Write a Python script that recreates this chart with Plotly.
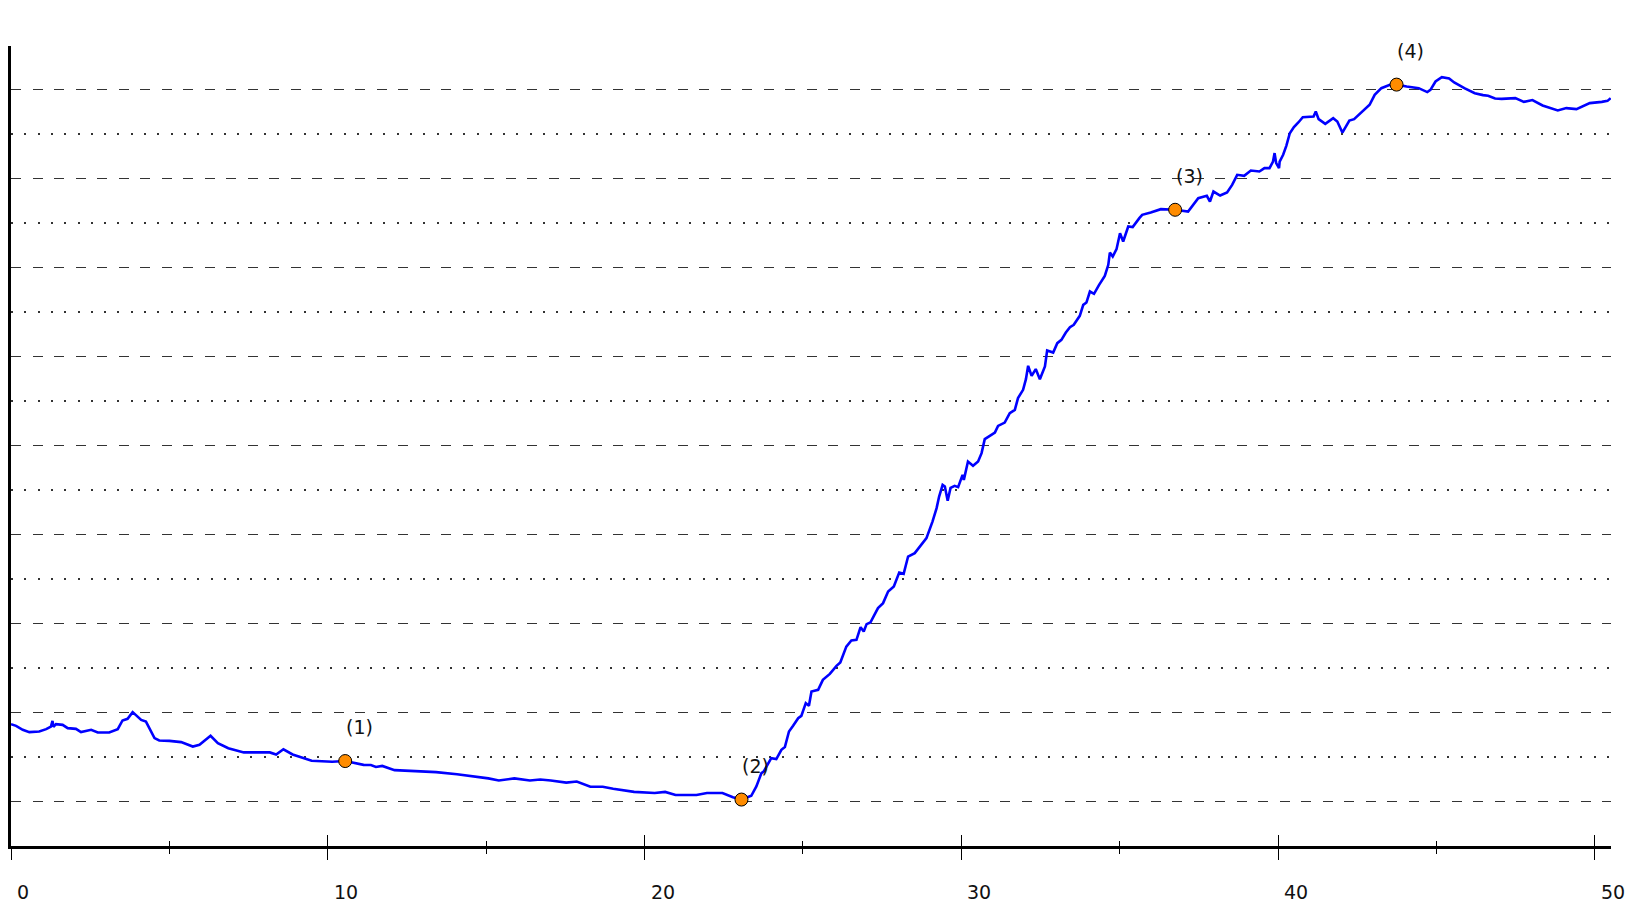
import plotly.graph_objects as go

# ---- data ----
x_vals = [
    0.00, 0.16, 0.37, 0.58, 0.89, 1.11, 1.26, 1.31, 1.34, 1.42, 1.63, 1.79, 2.05, 2.21,
    2.53, 2.74, 3.10, 3.37, 3.52, 3.68, 3.84, 4.11, 4.26, 4.53, 4.68, 5.00, 5.37, 5.74,
    5.95, 6.07, 6.30, 6.53, 6.86, 7.35, 8.17, 8.37, 8.60, 8.89, 9.49, 10.14, 10.55,
    11.13, 11.36, 11.52, 11.72, 12.11, 12.77, 13.42, 14.08, 15.07, 15.40, 15.89, 16.38,
    16.71, 17.04, 17.53, 17.86, 18.29, 18.68, 19.01, 19.67, 20.32, 20.65, 20.98, 21.64,
    21.97, 22.46, 22.79, 23.06,
    23.37, 23.53, 23.61, 23.69, 23.76, 23.90, 24.00, 24.16, 24.32, 24.43, 24.56, 24.69,
    24.85, 24.95, 25.09, 25.19, 25.27, 25.48, 25.63, 25.85, 26.06, 26.18, 26.37, 26.53,
    26.69, 26.82, 26.92, 27.01, 27.13, 27.24, 27.37, 27.53, 27.69, 27.87, 28.04, 28.18,
    28.32, 28.53, 28.74, 28.90, 29.09, 29.22, 29.30, 29.41, 29.48, 29.57, 29.66, 29.79,
    29.90, 30.04, 30.08, 30.21, 30.37, 30.53, 30.64, 30.74, 30.90, 31.06, 31.16, 31.37,
    31.53, 31.69, 31.79, 31.95, 32.04, 32.11, 32.22, 32.35, 32.48, 32.64, 32.71, 32.90,
    33.03, 33.16, 33.30, 33.43, 33.55, 33.69, 33.74, 33.85, 33.95, 34.06, 34.19, 34.35,
    34.53, 34.64, 34.69, 34.78, 34.90, 35.01, 35.11, 35.27, 35.41, 35.62, 35.71, 35.98,
    36.30, 36.75, 37.16, 37.48, 37.75, 37.85, 37.96, 38.17, 38.39, 38.55, 38.71, 38.93,
    39.14, 39.41, 39.57, 39.73, 39.84, 39.89, 39.94, 40.03, 40.05, 40.16, 40.26, 40.37,
    40.50, 40.64, 40.78, 41.12, 41.19, 41.28, 41.49, 41.74, 41.87, 42.03, 42.25, 42.40,
    42.67, 42.89, 43.05, 43.26, 43.53, 43.74, 44.06, 44.44, 44.71, 44.81, 44.97, 45.17,
    45.40, 45.56, 45.88, 46.21, 46.47, 46.63, 46.85, 47.06, 47.49, 47.76, 48.03, 48.35,
    48.83, 49.10, 49.42, 49.84, 50.22, 50.40, 50.50,
]
y_vals = [
    1.870, 1.851, 1.806, 1.780, 1.787, 1.814, 1.843, 1.907, 1.840, 1.870, 1.862, 1.825, 1.817, 1.780,
    1.806, 1.776, 1.776, 1.814, 1.911, 1.930, 2.005, 1.918, 1.899, 1.713, 1.686, 1.682, 1.668, 1.618,
    1.637, 1.669, 1.739, 1.657, 1.599, 1.552, 1.552, 1.529, 1.587, 1.529, 1.458, 1.447, 1.455,
    1.412, 1.410, 1.388, 1.400, 1.353, 1.341, 1.330, 1.306, 1.260, 1.236, 1.260, 1.236,
    1.248, 1.236, 1.213, 1.225, 1.166, 1.166, 1.143, 1.108, 1.096, 1.108, 1.073, 1.073,
    1.096, 1.096, 1.049, 1.022,
    1.064, 1.169, 1.244, 1.319, 1.337, 1.432, 1.488, 1.477, 1.581, 1.612, 1.787, 1.851,
    1.937, 1.963, 2.106, 2.076, 2.237, 2.256, 2.368, 2.435, 2.525, 2.563, 2.742, 2.810,
    2.818, 2.960, 2.911, 2.994, 3.012, 3.087, 3.174, 3.230, 3.361, 3.417, 3.574, 3.560,
    3.754, 3.792, 3.886, 3.961, 4.147, 4.298, 4.428, 4.560, 4.541, 4.380, 4.525, 4.549,
    4.534, 4.672, 4.616, 4.822, 4.774, 4.822, 4.916, 5.074, 5.111, 5.148, 5.223, 5.260,
    5.366, 5.403, 5.535, 5.628, 5.748, 5.898, 5.785, 5.861, 5.748, 5.890, 6.070, 6.047,
    6.153, 6.190, 6.272, 6.333, 6.359, 6.434, 6.460, 6.583, 6.609, 6.733, 6.707, 6.808,
    6.909, 7.033, 7.171, 7.126, 7.209, 7.389, 7.295, 7.464, 7.457, 7.558, 7.595, 7.621,
    7.659, 7.652, 7.632, 7.783, 7.809, 7.745, 7.857, 7.812, 7.846, 7.932, 8.045, 8.034,
    8.093, 8.082, 8.120, 8.120, 8.194, 8.289, 8.176, 8.120, 8.194, 8.270, 8.371, 8.513,
    8.581, 8.633, 8.693, 8.700, 8.756, 8.671, 8.618, 8.682, 8.644, 8.520, 8.655, 8.671,
    8.756, 8.832, 8.944, 9.019, 9.056, 9.059, 9.037, 9.019, 8.975, 9.000, 9.094, 9.143,
    9.128, 9.083, 9.019, 8.963, 8.941, 8.933, 8.902, 8.899, 8.907, 8.865, 8.885, 8.824,
    8.768, 8.795, 8.783, 8.851, 8.865, 8.876, 8.907,
]

point_x = [10.55, 23.06, 36.75, 43.74]
point_y = [1.455, 1.022, 7.652, 9.059]
point_labels = ["(1)", "(2)", "(3)", "(4)"]

tick_values = [0, 10, 20, 30, 40, 50]
tick_labels = ["0", "10", "20", "30", "40", "50"]

FONT = "DejaVu Sans"

fig = go.Figure()
fig.add_trace(go.Scatter(
    x=x_vals, y=y_vals, mode="lines",
    line=dict(color="#0000FF", width=2.6),
    hoverinfo="skip", showlegend=False,
))
fig.add_trace(go.Scatter(
    x=point_x, y=point_y, mode="markers",
    marker=dict(size=13, color="#FF8C00", line=dict(color="#000000", width=1)),
    showlegend=False,
))
# dummy trace so the overlaying axis (inside ticks) is drawn
fig.add_trace(go.Scatter(x=[None], y=[None], xaxis="x2", showlegend=False, hoverinfo="skip"))

annotations = []
for px, py, lab in zip(point_x, point_y, point_labels):
    annotations.append(dict(
        x=px, y=py, xref="x", yref="y", text=lab, showarrow=False,
        xshift=14, yshift=34, font=dict(family=FONT, size=19, color="#111111"),
    ))
for tv, tl in zip(tick_values, tick_labels):
    annotations.append(dict(
        x=tv, y=0, xref="x", yref="paper", text=tl, showarrow=False,
        xanchor="left", yanchor="middle", xshift=4, yshift=-46,
        font=dict(family=FONT, size=19, color="#111111"),
    ))

XR = [0, 50.51]
tick_common = dict(tickcolor="#000000", tickwidth=1.3)

fig.update_layout(
    width=1631, height=906,
    margin=dict(l=11, r=20, t=46, b=60),
    paper_bgcolor="white", plot_bgcolor="white",
    showlegend=False,
    annotations=annotations,
    xaxis=dict(
        range=XR, showgrid=False, zeroline=False,
        showline=True, linecolor="#000000", linewidth=2.5,
        tickmode="linear", tick0=0, dtick=10,
        ticks="outside", ticklen=11, showticklabels=False, **tick_common,
        minor=dict(dtick=5, ticks="outside", ticklen=5, tickcolor="#000000", tickwidth=1.3, showgrid=False),
    ),
    xaxis2=dict(
        range=XR, overlaying="x", anchor="y", side="bottom",
        showgrid=False, zeroline=False, showline=False,
        tickmode="linear", tick0=0, dtick=10,
        ticks="inside", ticklen=11, showticklabels=False, **tick_common,
        minor=dict(dtick=5, ticks="inside", ticklen=5, tickcolor="#000000", tickwidth=1.3, showgrid=False),
    ),
    yaxis=dict(
        range=[0.5, 9.493], zeroline=False,
        showline=True, linecolor="#000000", linewidth=2.5,
        ticks="", showticklabels=False,
        tickmode="linear", tick0=0, dtick=1,
        showgrid=True, gridcolor="#333333", gridwidth=1.2, griddash="10px,11.5px",
        minor=dict(dtick=0.5, showgrid=True, gridcolor="#333333", gridwidth=1.6,
                   griddash="2px,11.3px", ticks=""),
    ),
)

fig.write_html("out.html", config={"displayModeBar": False},
               post_script="document.body.style.margin='0';")
